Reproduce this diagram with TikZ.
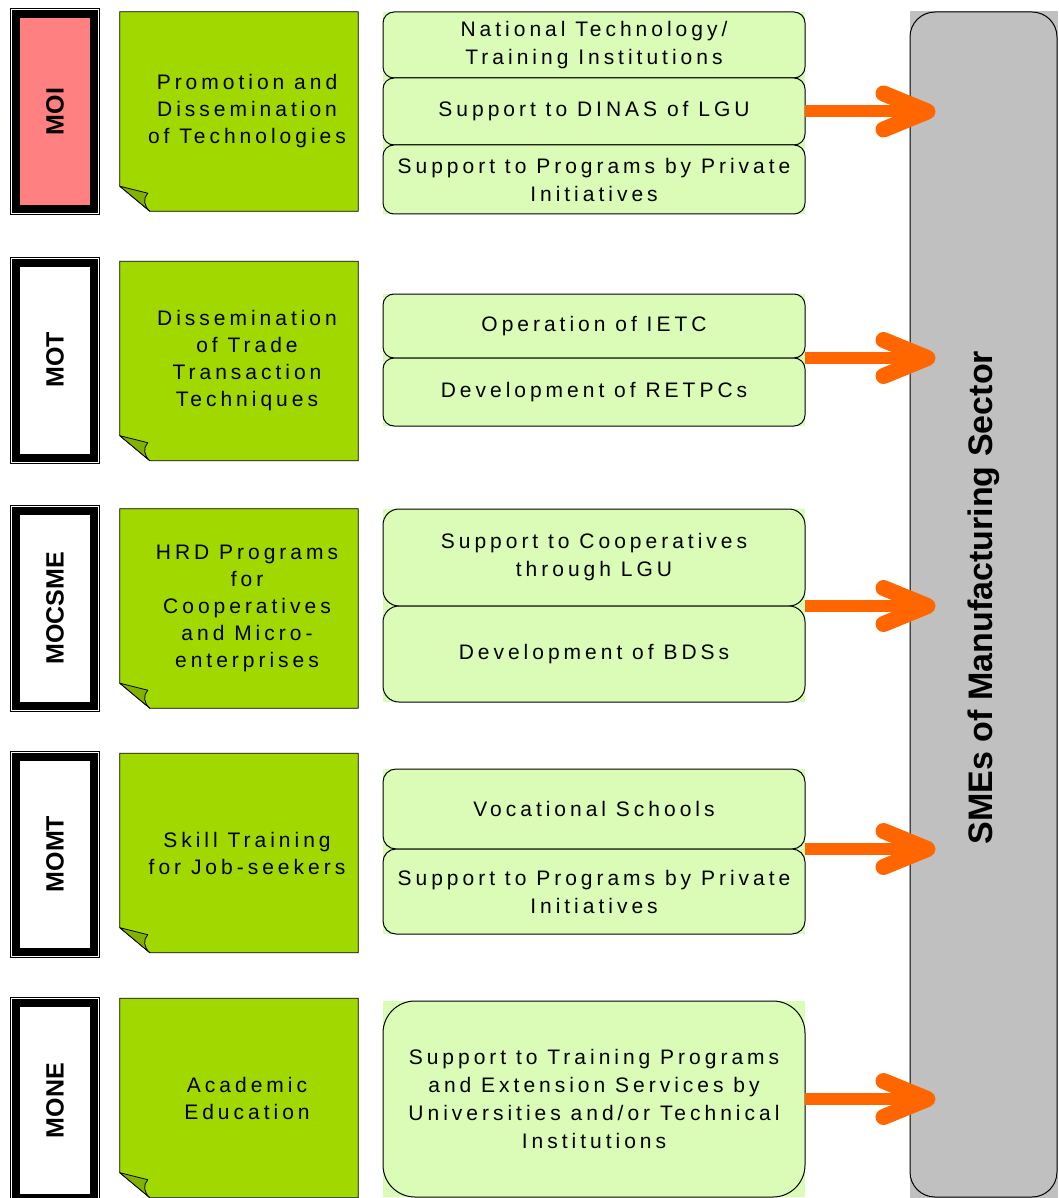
\documentclass[tikz,border=0pt]{standalone}
\usepackage{fontspec}
\setmainfont{Liberation Sans}
\newfontfamily\spaced[LetterSpace=19]{Liberation Sans}
\usepackage{tikz}
\usetikzlibrary{positioning}
\usetikzlibrary{calc}
\usetikzlibrary{backgrounds}
\usetikzlibrary{arrows.meta}
\definecolor{moipink}{RGB}{255,128,128}
\definecolor{notegreen}{RGB}{160,216,0}
\definecolor{flapgreen}{RGB}{130,178,0}
\definecolor{boxgreen}{RGB}{218,252,182}
\definecolor{smegray}{RGB}{192,192,192}
\definecolor{arroworange}{RGB}{255,102,0}

\begin{document}
\begin{tikzpicture}[x=1pt,y=-1pt,
	ministry/.style={draw, line width=8pt, minimum width=78pt, minimum height=195pt, inner sep=0pt, font=\fontsize{25}{30}\selectfont\bfseries},
	frame/.style={draw, line width=1pt},
	note/.style={minimum width=238pt, minimum height=199pt, inner sep=0pt},
	notetxt/.style={align=center, inner sep=0pt, font=\spaced\fontsize{21}{27}\selectfont},
	sub/.style={draw, line width=1pt, fill=boxgreen, minimum width=422pt, inner sep=0pt, outer sep=0pt, align=center, font=\spaced\fontsize{21}{28}\selectfont},
	feed/.style={draw=arroworange, line width=12pt, -{Straight Barb[length=44pt, width=36pt, line width=16pt, round]}, shorten >=-26pt}]
	\useasboundingbox (0,0) rectangle (1058,1198);
	\clip (0,0) rectangle (1058,1198);
	
	%ministries
	\foreach \nm/\y/\col in {moi/111.5/moipink, mot/360/white, mocsme/608.5/white, momt/854/white, mone/1100.5/white}{
		\node[ministry, fill=\col] (\nm-m) at (55,\y) {\rotatebox{90}{\MakeUppercase{\nm}}};
		\draw[frame] ([shift={(-1.5,-1.5)}]\nm-m.north west) rectangle ([shift={(1.5,1.5)}]\nm-m.south east);
	}
	
	%sticky notes with folded corner
	\foreach \nm/\y/\txt in {moi/111.5/{Promotion and\\Dissemination\\of Technologies},
		mot/361/{Dissemination\\of Trade\\Transaction\\Techniques},
		mocsme/608.5/{HRD Programs\\for\\Cooperatives\\and Micro-\\enterprises},
		momt/853/{Skill Training\\for Job-seekers},
		mone/1098/{Academic\\Education}}{
		\node[note] (\nm-n) at (239,\y) {};
		\draw[fill=notegreen, line width=0.8pt] (\nm-n.north west) -- (\nm-n.north east) -- (\nm-n.south east) -- ($(\nm-n.south west)+(30,0)$) -- ($(\nm-n.south west)+(0,-25)$) -- cycle;
		\draw[fill=flapgreen, line width=0.8pt, line join=round] ($(\nm-n.south west)+(0,-25)$) -- ($(\nm-n.south west)+(28,-18)$) .. controls ($(\nm-n.south west)+(23,-13)$) and ($(\nm-n.south west)+(24,-5)$) .. ($(\nm-n.south west)+(30,0)$) -- cycle;
		\node[notetxt] (\nm-t) at ($(\nm-n.center)+(8,0)$) {\txt};
	}
	
	%programs
	\node[sub, minimum height=66pt, rounded corners=11pt] (moi-a) at (594,45) {National Technology/\\Training Institutions};
	\node[sub, minimum height=67pt, rounded corners=11pt, below=0pt of moi-a] (moi-b) {Support to DINAS of LGU};
	\node[sub, minimum height=69pt, rounded corners=11pt, below=0pt of moi-b] (moi-c) {Support to Programs by Private\\Initiatives};
	
	\node[sub, minimum height=64pt, rounded corners=11pt] (mot-a) at (594,326) {Operation of IETC};
	\node[sub, minimum height=68pt, rounded corners=11pt, below=0pt of mot-a] (mot-b) {Development of RETPCs};
	
	\node[sub, minimum height=97pt, rounded corners=16pt] (mocsme-a) at (594,557.5) {Support to Cooperatives\\through LGU};
	\node[sub, minimum height=96pt, rounded corners=16pt, below=0pt of mocsme-a] (mocsme-b) {Development of BDSs};
	
	\node[sub, minimum height=80pt, rounded corners=13pt] (momt-a) at (594,809) {Vocational Schools};
	\node[sub, minimum height=85pt, rounded corners=13pt, below=0pt of momt-a] (momt-b) {Support to Programs by Private\\Initiatives};
	
	\node[sub, minimum height=196pt, rounded corners=32pt] (mone-a) at (594,1099) {Support to Training Programs\\and Extension Services by\\Universities and/or Technical\\Institutions};
	
	%target
	\node[draw, line width=1pt, fill=smegray, rounded corners=25pt, minimum width=147pt, minimum height=1185pt, inner sep=0pt, font=\fontsize{34}{40}\selectfont\bfseries] (sme) at (983.5,604.5) {\rotatebox{90}{\hspace{14pt}SMEs of Manufacturing Sector}};
	
	\begin{pgfonlayer}{background}
		\fill[boxgreen] (moi-a.north west) rectangle (moi-c.south east);
		\fill[boxgreen] (mot-a.north west) rectangle (mot-b.south east);
		\fill[boxgreen] (mocsme-a.north west) rectangle (mocsme-b.south east);
		\fill[boxgreen] (momt-a.north west) rectangle (momt-b.south east);
		\fill[boxgreen] (mone-a.north west) rectangle (mone-a.south east);
		\fill[smegray] (sme.north west) rectangle (sme.south east);
	\end{pgfonlayer}
	
	%arrows
	\draw[feed] (moi-b.east) -- (moi-b.east -| sme.west);
	\draw[feed] (mot-a.south east) -- (mot-a.south east -| sme.west);
	\draw[feed] (mocsme-a.south east) -- (mocsme-a.south east -| sme.west);
	\draw[feed] (momt-a.south east) -- (momt-a.south east -| sme.west);
	\draw[feed] (mone-a.east) -- (mone-a.east -| sme.west);
\end{tikzpicture}
\end{document}
